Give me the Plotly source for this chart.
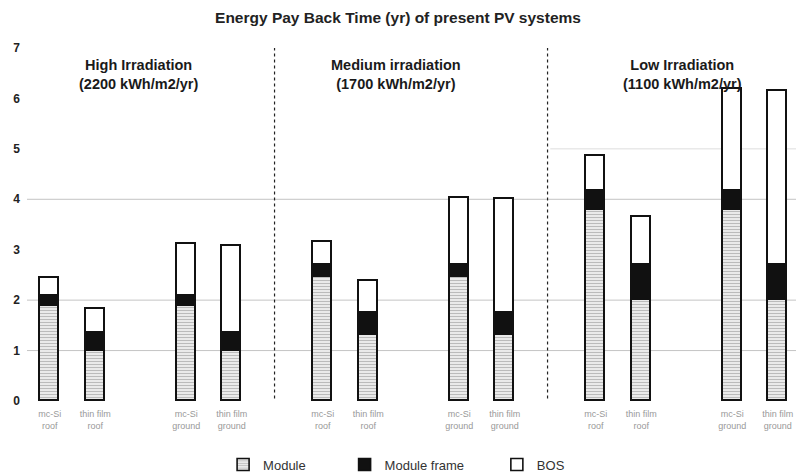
import plotly.graph_objects as go

# Energy pay back time components (years) per system and irradiation level
groups = ["High Irradiation<br>(2200 kWh/m2/yr)",
          "Medium irradiation<br>(1700 kWh/m2/yr)",
          "Low Irradiation<br>(1100 kWh/m2/yr)"]
systems = ["mc-Si<br>roof", "thin film<br>roof", "mc-Si<br>ground", "thin film<br>ground"]
y_ticks = [0, 1, 2, 3, 4, 5, 6, 7]

module = [1.89, 1.00, 1.89, 1.00,
          2.45, 1.31, 2.45, 1.31,
          3.79, 2.00, 3.79, 2.00]
frame = [0.20, 0.35, 0.20, 0.35,
         0.25, 0.43, 0.25, 0.43,
         0.37, 0.69, 0.37, 0.69]
bos = [0.34, 0.48, 1.03, 1.73,
       0.45, 0.63, 1.32, 2.26,
       0.69, 0.95, 2.03, 3.46]

# slot layout: two roof bars, a gap, two ground bars, a gap between groups
xpos, labels = [], []
for g in range(len(groups)):
    for s, name in enumerate(systems):
        xpos.append(g * 6 + (s // 2) * 3 + s % 2)
        labels.append(name)

bar_w = 0.42
outline = dict(color="#111", width=1.6)

fig = go.Figure()
fig.add_trace(go.Bar(
    x=xpos, y=module, name="Module", width=bar_w, showlegend=True,
    marker=dict(color="white", line=outline,
                pattern=dict(shape="-", fgcolor="#777777", bgcolor="white",
                             size=3, solidity=0.55))))
fig.add_trace(go.Bar(
    x=xpos, y=frame, name="Module frame", width=bar_w, showlegend=True,
    marker=dict(color="#111", line=outline), legend="legend2"))
fig.add_trace(go.Bar(
    x=xpos, y=bos, name="BOS", width=bar_w, showlegend=True,
    marker=dict(color="white", line=outline), legend="legend3"))

# horizontal reference lines
shapes = []
for yv in [1, 2, 4]:
    shapes.append(dict(type="line", xref="paper", x0=0, x1=1, yref="y", y0=yv, y1=yv,
                       line=dict(color="#c4c4c4", width=1), layer="below"))
shapes.append(dict(type="line", xref="x", x0=11, x1=16.4, yref="y", y0=5, y1=5,
                   line=dict(color="#dddddd", width=1), layer="below"))
# dotted separators between irradiation groups
for xv in [5, 11]:
    shapes.append(dict(type="line", xref="x", x0=xv - 0.06, x1=xv - 0.06, yref="y", y0=0.05, y1=7.05,
                       line=dict(color="#222", width=1.2, dash="dot")))

head_x = [1.95, 7.6, 13.9]
annotations = [dict(x=hx, y=6.48, xref="x", yref="y", text="<b>%s</b>" % t,
                    showarrow=False, font=dict(family="Arial", size=14.5, color="#1a1a1a"),
                    align="center")
               for hx, t in zip(head_x, groups)]

leg_font = dict(family="Arial", size=13, color="#333")
leg_common = dict(y=-0.18, xanchor="left", yanchor="middle", orientation="h",
                  font=leg_font, itemwidth=30, bgcolor="rgba(0,0,0,0)")
fig.update_layout(
    width=796, height=475,
    barmode="stack", bargap=0,
    plot_bgcolor="white", paper_bgcolor="white",
    margin=dict(l=27, r=0, t=48, b=74, autoexpand=False),
    showlegend=True,
    title=dict(text="<b>Energy Pay Back Time (yr) of present PV systems</b>",
               x=0.5, xanchor="center", y=0.962, yanchor="middle",
               font=dict(family="Arial", size=15.5, color="#222")),
    xaxis=dict(range=[-0.5, 16.4], tickmode="array", tickvals=xpos, ticktext=labels,
               tickangle=0, showgrid=False, zeroline=False, showline=False, ticks="",
               ticklabelstandoff=6, automargin=False,
               tickfont=dict(family="Arial", size=9, color="#999")),
    yaxis=dict(range=[0, 7], tickmode="array", tickvals=y_ticks,
               ticktext=["<b>%d</b>" % v for v in y_ticks],
               showgrid=False, zeroline=False, showline=False,
               ticks="", ticklabelstandoff=6, automargin=False,
               tickfont=dict(family="Arial", size=12, color="#222")),
    shapes=shapes,
    annotations=annotations,
    legend=dict(x=0.255, **leg_common),
    legend2=dict(x=0.413, **leg_common),
    legend3=dict(x=0.611, **leg_common),
)

fig.write_html("out.html")
